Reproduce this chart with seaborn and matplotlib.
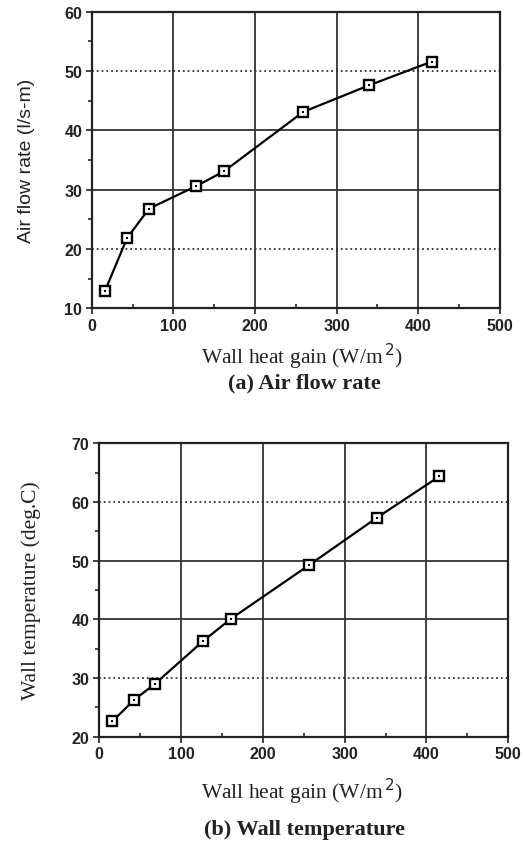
import numpy as np
import pandas as pd
import seaborn as sns
import matplotlib.pyplot as plt
from matplotlib.ticker import MultipleLocator

heatGainA = [16, 43, 70, 128, 162, 259, 340, 417]
airFlow = [12.9, 21.8, 26.8, 30.6, 33.1, 43.1, 47.6, 51.6]

heatGainB = [16, 42, 68, 127, 161, 257, 339, 416]
wallTemp = [22.6, 26.2, 29.0, 36.3, 40.1, 49.3, 57.3, 64.4]

xTicks = [0, 100, 200, 300, 400, 500]
yTicksA = [10, 20, 30, 40, 50, 60]
yTicksB = [20, 30, 40, 50, 60, 70]

sns.set_style("ticks")
plt.rcParams['font.family'] = ['Liberation Sans', 'DejaVu Sans']

fig = plt.figure(figsize=(5.25, 8.45), dpi=100)
axA = fig.add_axes([0.175, 0.634, 0.777, 0.351])
axB = fig.add_axes([0.189, 0.127, 0.779, 0.347])


def drawPanel(ax, x, y, yTicks, dottedRows, ylabel, ylabelFont, ylabelSize, ylabelX,
              caption, xlabelY, captionY):
    df = pd.DataFrame({"x": x, "y": y})
    sns.lineplot(data=df, x="x", y="y", ax=ax, color="black", linewidth=1.6,
                 marker="s", markersize=7.5, markerfacecolor="white",
                 markeredgecolor="black", markeredgewidth=1.7, zorder=3)
    # little dot in the middle of each square marker
    sns.scatterplot(data=df, x="x", y="y", ax=ax, marker="s", s=4,
                    color="black", linewidth=0, zorder=4)

    ax.set_xlim(xTicks[0], xTicks[-1])
    ax.set_ylim(yTicks[0], yTicks[-1])
    ax.set_xticks(xTicks)
    ax.set_yticks(yTicks)
    ax.xaxis.set_minor_locator(MultipleLocator(50))
    ax.yaxis.set_minor_locator(MultipleLocator(5))

    # grid lines: some rows look dotted in the scan
    for v in xTicks[1:-1]:
        ax.axvline(v, color="#333333", linewidth=1.3, zorder=1)
    for v in yTicks[1:-1]:
        ls = ":" if v in dottedRows else "-"
        ax.axhline(v, color="#333333", linewidth=1.3, linestyle=ls, zorder=1)

    for s in ax.spines.values():
        s.set_linewidth(1.6)
        s.set_color("#222222")

    ax.tick_params(axis="both", which="major", direction="out", length=4,
                   width=1.2, labelsize=11.5, pad=3, colors="#222222")
    ax.tick_params(axis="x", which="minor", direction="in", length=3, width=1.2)
    ax.tick_params(axis="y", which="minor", direction="out", length=3, width=1.2)
    for lab in ax.get_xticklabels() + ax.get_yticklabels():
        lab.set_fontweight("bold")

    ax.set_xlabel("")
    ax.set_ylabel(ylabel, fontsize=ylabelSize, family=ylabelFont, color="#222222")
    ax.yaxis.set_label_coords(ylabelX, 0.5)

    fig.text(0.575, xlabelY, "Wall heat gain (W/m$^{\\,2}$)", ha="center", va="center",
             fontsize=15.5, family=["Liberation Serif"], color="#222222")
    fig.text(0.58, captionY, caption, ha="center", va="center", fontsize=16,
             fontweight="bold", family=["Liberation Serif"], color="#222222")


drawPanel(axA, heatGainA, airFlow, yTicksA, [20, 50],
          "Air flow rate (l/s-m)", ["Liberation Sans"], 14, -0.14,
          "(a) Air flow rate", 1 - 357 / 845, 1 - 383 / 845)
drawPanel(axB, heatGainB, wallTemp, yTicksB, [30, 60],
          "Wall temperature (deg.C)", ["Liberation Serif"], 15.5, -0.142,
          "(b) Wall temperature", 1 - 792 / 845, 1 - 830 / 845)

fig.savefig("out.png", dpi=100)
